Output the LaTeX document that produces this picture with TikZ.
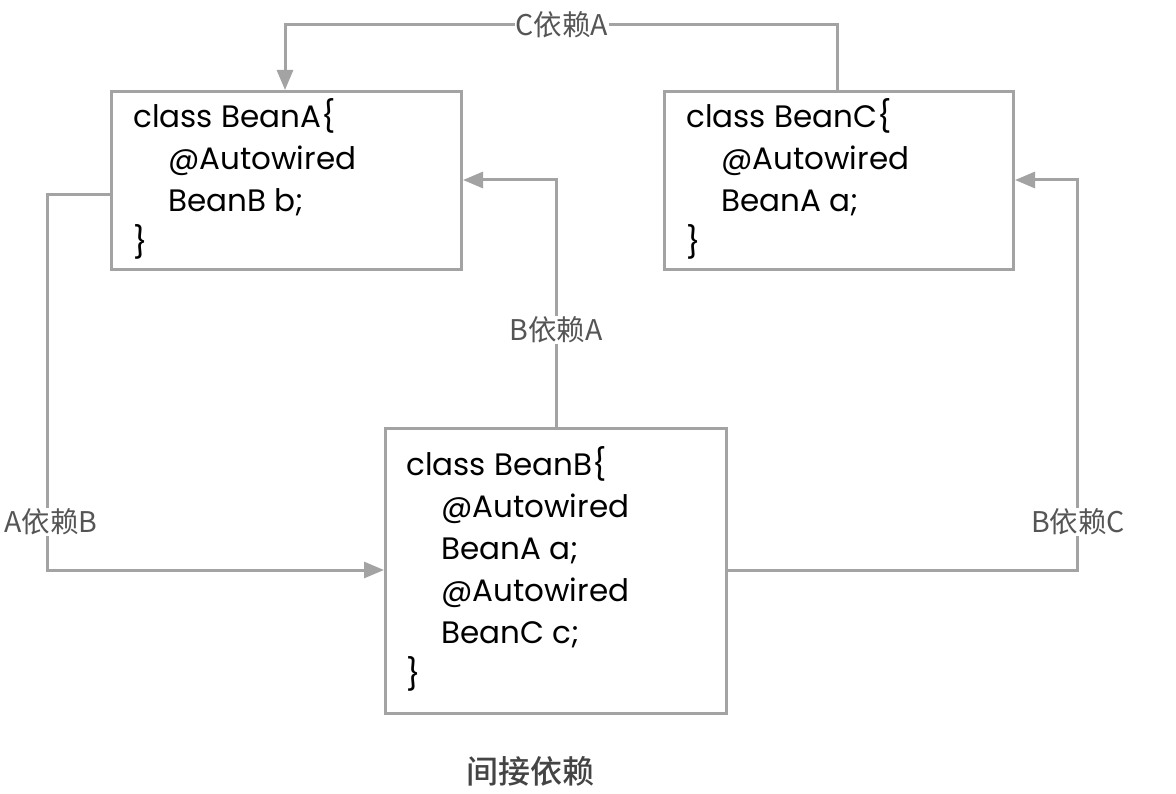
\documentclass[tikz,border=0pt]{standalone}
\usepackage{fontspec}
\setmainfont{Poppins}
\newfontfamily\cjk{Noto Sans CJK SC}
\newfontfamily\cjkm{Noto Sans CJK SC Medium}
\usetikzlibrary{arrows.meta}
\definecolor{linegray}{HTML}{A3A3A3}
\definecolor{labelgray}{HTML}{555555}
\tikzset{
  x=1pt, y=-1pt,
  beanbox/.style={draw=linegray, line width=3pt, anchor=north west, inner sep=0pt},
  code/.style={anchor=north west, align=left, inner sep=0pt, font=\fontsize{31}{42}\selectfont, text=black},
  conn/.style={draw=linegray, line width=3pt, -{Triangle[length=20pt,width=16pt]}},
  lbl/.style={fill=white, inner sep=1pt, text=labelgray, font=\cjk\fontsize{28.5}{32}\selectfont},
}
\begin{document}
\begin{tikzpicture}
\useasboundingbox (0,0) rectangle (1176,794);
% boxes
\node[beanbox, minimum width=350pt, minimum height=178pt] (A) at (110,90) {};
\node[beanbox, minimum width=349pt, minimum height=178pt] (C) at (663,90) {};
\node[beanbox, minimum width=341pt, minimum height=285pt] (B) at (384,427) {};
% code
\node[code] (tA) at (133,98) {class BeanA\{\\\hspace{35pt}@Autowired\\\hspace{35pt}BeanB b;\\\}};
\node[code] (tC) at (686,98) {class BeanC\{\\\hspace{35pt}@Autowired\\\hspace{35pt}BeanA a;\\\}};
\node[code] (tB) at (406,446) {class BeanB\{\\\hspace{35pt}@Autowired\\\hspace{35pt}BeanA a;\\\hspace{35pt}@Autowired\\\hspace{35pt}BeanC c;\\\}};
% waypoints
\coordinate (c1) at (837,25);
\coordinate (c2) at (285,25);
\coordinate (b1) at (556,180);
\coordinate (a1) at (47,195);
\coordinate (a2) at (47,570);
\coordinate (d1) at (1077,570);
\coordinate (d2) at (1077,180);
% connectors
\draw[conn] (C.north -| c1) -- (c1) -- (c2) -- (c2 |- A.north);
\draw[conn] (B.north -| b1) -- (b1) -- (b1 -| A.east);
\draw[conn] (a1 -| A.west) -- (a1) -- (a2) -- (a2 -| B.west);
\draw[conn] (d1 -| B.east) -- (d1) -- (d2) -- (d2 -| C.east);
% labels
\node[lbl] (l1) at (562,25) {C依赖A};
\node[lbl] (l2) at (556,330) {B依赖A};
\node[lbl] (l3) at (51,522) {A依赖B};
\node[lbl] (l4) at (1078,522) {B依赖C};
\node[text=labelgray!80!black, font=\cjkm\fontsize{32}{36}\selectfont] (cap) at (530,771) {间接依赖};
\end{tikzpicture}
\end{document}
